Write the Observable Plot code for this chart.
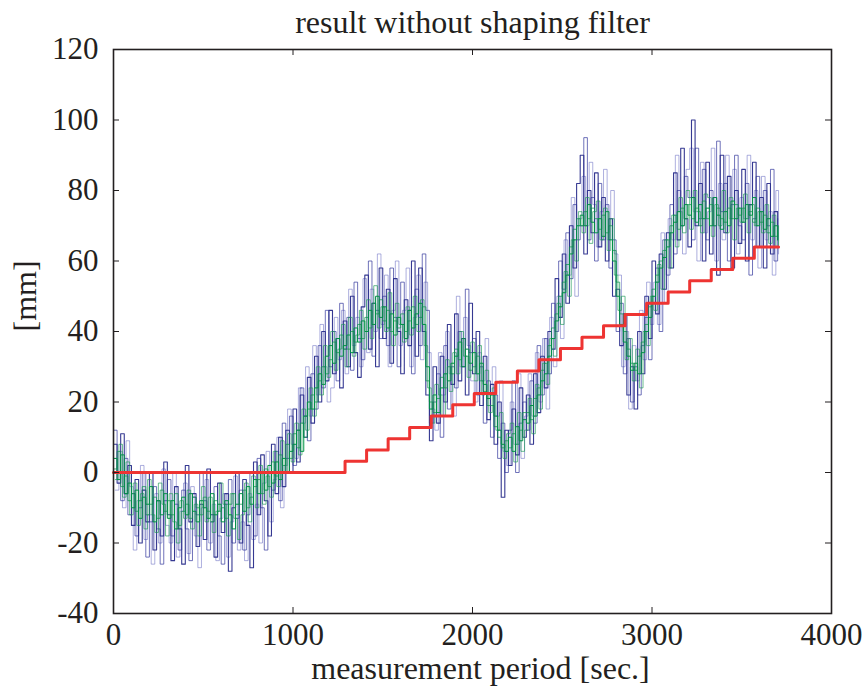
<!DOCTYPE html>
<html>
<head>
<meta charset="utf-8">
<script src="https://cdn.jsdelivr.net/npm/d3@7"></script>
<script src="https://cdn.jsdelivr.net/npm/@observablehq/plot@0.6"></script>
<style>
  html, body { margin: 0; padding: 0; background: #fff; }
  #chart { width: 863px; height: 689px; }
</style>
</head>
<body>
<div id="chart"></div>
<script>
// ---- data ----
const title = "result without shaping filter";
const xLabel = "measurement period [sec.]";
const yLabel = "[mm]";
const xTicks = [0, 1000, 2000, 3000, 4000];
const yTicks = [-40, -20, 0, 20, 40, 60, 80, 100, 120];
const sampleStep = 20;   // seconds between samples of the measured traces
const sampleOffset = 10; // the third pair of traces is sampled half a step later

const blueA = [
  8, -3, 11, -6, 2,   -15, -2, -20, -5, -14,   0, -22, -8, -18, 3,   -12, -25, -4, -16, -26,
  2, -14, -6, -21, -9,   -19, 1, -12, -24, -3,   -17, -6, -28, -10, 0,   -20, -2, -15, -27, 3,
  -12, 5, -8, -18, 8,   -6, 10, -4, 12, 0,   18, 3, 22, 10, 27,   14, 33, 20, 40, 26,
  46, 28, 38, 24, 43,   30, 50, 34, 27, 47,   56, 35, 48, 30, 58,   38, 52, 31, 55, 40,
  28, 49, 36, 60, 33,   58, 40, 22, 9, 30,   14, 33, 20, 42, 25,   45, 26, 38, 22, 48,
  28, 40, 19, 33, 15,   25, 8, 20, -7, 12,   2, 18, 5, 24, 10,   22, 8, 28, 17, 33,
  24, 40, 35, 55, 44,   62, 48, 70, 58, 82,   90, 62, 80, 68, 85,   64, 78, 60, 72, 50,
  52, 36, 45, 22, 30,   18, 40, 28, 50, 38,   60, 45, 62, 52, 68,   58, 85, 66, 92, 72,
  64, 100, 70, 82, 60,   88, 62, 78, 56, 90,   68, 84, 58, 80, 65,   86, 60, 76, 88, 64,
  78, 58, 82, 62, 74,   66
];
const blueB = [
  12, 0, -8, 4, -12,   -6, -18, -10, 0, -24,   -14, -4, -16, -26, -8,   -2, -18, -9, -22, -5,
  -16, -25, -7, -12, 0,   -8, -22, -14, -4, -18,   -26, -9, -2, -20, -13,   -5, -22, -12, 0, -18,
  4, -10, -22, 0, -5,   6, -8, 14, 4, 16,   2, 12, 24, 16, 9,   28, 18, 36, 24, 46,
  30, 40, 26, 48, 35,   44, 29, 54, 38, 32,   40, 60, 33, 46, 38,   50, 36, 58, 44, 30,
  54, 38, 46, 28, 52,   36, 62, 46, 14, 20,   28, 10, 36, 18, 30,   24, 40, 30, 52, 34,
  38, 22, 30, 14, 26,   10, 22, 4, 14, 0,   12, 26, 0, 14, 20,   12, 26, 14, 36, 22,
  38, 28, 48, 40, 60,   52, 68, 55, 76, 66,   70, 95, 66, 78, 60,   82, 66, 76, 58, 66,
  40, 48, 28, 38, 20,   30, 22, 36, 44, 32,   48, 58, 40, 66, 56,   76, 62, 80, 70, 84,
  78, 66, 92, 72, 86,   66, 80, 70, 94, 74,   82, 60, 76, 90, 70,   66, 82, 56, 72, 84,
  64, 80, 70, 86, 60,   72
];
const blueC = [
  -5, 6, -10, 9, -4,   -22, -8, 2, -19, -12,   -26, -6, -20, 1, -15,   -20, 0, -24, -11, -3,
  -23, -4, -18, -27, -10,   -2, -20, -9, -25, -13,   -6, -24, -14, -1, -22,   -14, -25, -6, -19, -9,
  -20, -3, 6, -14, -2,   10, -10, 2, 18, 8,   4, 24, 14, 30, 16,   36, 22, 42, 30, 20,
  24, 44, 32, 46, 28,   52, 36, 44, 30, 55,   34, 52, 40, 62, 42,   56, 30, 46, 60, 36,
  46, 58, 30, 44, 56,   32, 54, 34, 18, 12,   34, 22, 40, 28, 16,   50, 30, 44, 36, 26,
  20, 34, 26, 38, 22,   30, 16, 26, 6, 2,   20, 8, 28, 4, 16,   28, 16, 34, 20, 38,
  18, 44, 30, 50, 38,   66, 56, 78, 50, 72,   84, 70, 88, 76, 64,   74, 86, 66, 80, 62,
  56, 30, 40, 18, 36,   26, 46, 32, 54, 42,   54, 42, 68, 48, 72,   66, 90, 74, 62, 86,
  92, 74, 60, 88, 68,   74, 92, 60, 82, 66,   90, 72, 86, 62, 78,   72, 90, 66, 80, 58,
  84, 66, 74, 56, 80,   62
];
const greenA = [
  4, -2, 5, -6, -3,   -10, -5, -13, -7, -9,   -4, -14, -8, -12, -6,   -13, -8, -16, -10, -7,
  -12, -6, -11, -14, -8,   -10, -13, -6, -12, -9,   -14, -8, -12, -16, -9,   -6, -11, -4, -9, -2,
  -6, 0, -5, 2, -3,   3, -2, 4, 0, 6,   8, 12, 6, 16, 20,   18, 24, 28, 25, 33,
  36, 31, 38, 33, 36,   39, 34, 41, 37, 43,   40, 46, 42, 50, 44,   47, 41, 45, 39, 44,
  42, 38, 46, 41, 45,   48, 42, 30, 18, 22,   17, 24, 28, 26, 31,   33, 37, 30, 35, 31,
  34, 28, 31, 25, 21,   22, 16, 12, 8, 6,   10, 6, 13, 9, 15,   14, 19, 16, 22, 26,
  28, 33, 38, 43, 47,   51, 56, 62, 66, 70,   73, 70, 76, 71, 68,   72, 67, 74, 66, 60,
  50, 42, 37, 33, 29,   31, 28, 34, 40, 44,   50, 54, 58, 61, 64,   68, 71, 74, 70, 76,
  73, 78, 71, 76, 72,   75, 70, 78, 73, 69,   74, 70, 77, 72, 75,   71, 76, 73, 78, 70,
  74, 69, 72, 67, 70,   66
];
const greenB = [
  1, 6, -4, -1, -8,   -6, -11, -8, -4, -12,   -9, -7, -13, -5, -11,   -8, -12, -6, -15, -11,
  -9, -13, -7, -10, -12,   -7, -11, -14, -8, -11,   -10, -13, -9, -6, -12,   -9, -5, -10, -7, -4,
  -2, -6, 1, -4, 3,   -1, 5, 2, 8, 4,   11, 7, 14, 10, 18,   22, 20, 26, 30, 28,
  32, 37, 34, 39, 35,   35, 40, 37, 42, 38,   44, 41, 48, 45, 49,   43, 46, 40, 43, 41,
  45, 40, 43, 47, 42,   44, 47, 26, 20, 17,   21, 27, 24, 30, 28,   35, 32, 38, 33, 29,
  30, 33, 26, 23, 19,   19, 13, 10, 7, 9,   7, 11, 8, 12, 17,   17, 15, 21, 24, 29,
  31, 36, 41, 45, 50,   54, 59, 64, 69, 72,   70, 74, 72, 75, 72,   69, 73, 68, 70, 63,
  54, 45, 40, 35, 31,   29, 33, 37, 42, 47,   52, 56, 60, 63, 66,   70, 73, 69, 75, 72,
  76, 72, 75, 70, 77,   72, 76, 70, 75, 72,   71, 75, 72, 76, 73,   75, 72, 74, 71, 75,
  71, 73, 68, 71, 67,   68
];
const greenC = [
  -2, 8, -7, 3, -12,   -3, -15, -6, -16, -2,   -12, -17, -3, -9, -18,   -6, -14, -20, -8, -13,
  -5, -16, -9, -18, -4,   -14, -7, -17, -11, -3,   -9, -18, -6, -13, -19,   -12, -3, -14, -1, -10,
  2, -9, -1, -7, 6,   -4, 9, 0, 11, 3,   14, 5, 18, 12, 24,   16, 30, 22, 36, 27,
  40, 29, 35, 42, 30,   44, 33, 39, 46, 35,   49, 38, 53, 41, 47,   40, 51, 36, 48, 42,
  37, 47, 39, 50, 40,   49, 36, 24, 14, 25,   22, 16, 32, 23, 34,   28, 40, 33, 27, 37,
  26, 36, 22, 29, 17,   24, 12, 17, 4, 11,   14, 3, 17, 6, 12,   21, 11, 25, 18, 31,
  25, 38, 33, 48, 42,   57, 50, 66, 60, 74,   68, 78, 65, 74, 77,   66, 75, 63, 72, 56,
  46, 50, 32, 38, 26,   35, 24, 40, 36, 50,   46, 59, 52, 66, 58,   73, 64, 78, 68, 80,
  69, 80, 74, 68, 79,   78, 67, 76, 70, 80,   68, 78, 66, 75, 71,   79, 68, 76, 70, 74,
  68, 76, 65, 73, 64,   70
];
// reference (red) staircase
const redT = [0, 1290, 1410, 1530, 1650, 1770, 1890, 2010, 2130, 2250, 2370, 2490, 2610, 2730, 2850, 2970, 3090, 3210, 3330, 3450, 3570, 3705];
const redV = [0, 3.2, 6.4, 9.6, 12.8, 16, 19.2, 22.4, 25.6, 28.8, 32, 35.2, 38.4, 41.6, 44.8, 48, 51.2, 54.4, 57.6, 60.8, 64, 64];

// ---- build tables ----
const toRows = (vals, off = 0) => vals.map((v, i) => ({t: Math.min(i * sampleStep + off, 3705), v}));
const rowsBlueA = toRows(blueA);
const rowsBlueB = toRows(blueB);
const rowsBlueC = toRows(blueC, sampleOffset);
const rowsGreenA = toRows(greenA);
const rowsGreenB = toRows(greenB);
const rowsGreenC = toRows(greenC, sampleOffset);
const rowsRed = redT.map((t, i) => ({t, v: redV[i]}));

const W = 863, H = 689;
const mL = 113, mR = 32, mT = 49, mB = 76;
const fw = W - mL - mR, fh = H - mT - mB;
const tick = 6;
const ink = "#231f20";
const plain = d => String(d);

const plot = Plot.plot({
  width: W,
  height: H,
  marginLeft: mL,
  marginRight: mR,
  marginTop: mT,
  marginBottom: mB,
  style: {fontFamily: "'Liberation Serif', 'DejaVu Serif', serif", fontSize: "30px", background: "#fff", color: ink, overflow: "visible"},
  x: {domain: [0, 4000]},
  y: {domain: [-40, 120]},
  marks: [
    Plot.line(rowsBlueC, {x: "t", y: "v", curve: "step-after", stroke: "#6a6ec2", strokeWidth: 1, strokeOpacity: 0.55}),
    Plot.line(rowsBlueB, {x: "t", y: "v", curve: "step-after", stroke: "#33389c", strokeWidth: 1, strokeOpacity: 0.7}),
    Plot.line(rowsBlueA, {x: "t", y: "v", curve: "step-after", stroke: "#2b2e8c", strokeWidth: 1.1, strokeOpacity: 0.95}),
    Plot.line(rowsGreenC, {x: "t", y: "v", curve: "step-after", stroke: "#15984f", strokeWidth: 0.9, strokeOpacity: 0.7}),
    Plot.line(rowsGreenB, {x: "t", y: "v", curve: "step-after", stroke: "#0b944a", strokeWidth: 0.9, strokeOpacity: 0.8}),
    Plot.line(rowsGreenA, {x: "t", y: "v", curve: "step-after", stroke: "#009245", strokeWidth: 1}),
    Plot.line(rowsRed, {x: "t", y: "v", curve: "step-after", stroke: "#ee3432", strokeWidth: 3}),
    // inward ticks on all four sides
    Plot.tickY(yTicks, {y: d => d, insetRight: fw - tick, stroke: ink, strokeWidth: 1}),
    Plot.tickY(yTicks, {y: d => d, insetLeft: fw - tick, stroke: ink, strokeWidth: 1}),
    Plot.tickX(xTicks, {x: d => d, insetTop: fh - tick, stroke: ink, strokeWidth: 1}),
    Plot.tickX(xTicks, {x: d => d, insetBottom: fh - tick, stroke: ink, strokeWidth: 1}),
    Plot.frame({stroke: ink, strokeWidth: 1.6}),
    Plot.axisY(yTicks, {tickSize: 0, tickPadding: 15, label: null, fontSize: 31, fill: ink, tickFormat: plain}),
    Plot.axisX(xTicks, {tickSize: 0, tickPadding: 9, label: null, fontSize: 31, fill: ink, tickFormat: plain}),
    Plot.text([title], {text: d => d, frameAnchor: "top", dy: -27, fontSize: 32, fill: ink, lineAnchor: "middle"}),
    Plot.text([xLabel], {text: d => d, frameAnchor: "bottom", dy: 55, dx: 8, fontSize: 32, fill: ink, lineAnchor: "middle"}),
    Plot.text([yLabel], {text: d => d, frameAnchor: "left", dx: -88, rotate: -90, fontSize: 32, fill: ink, lineAnchor: "middle"})
  ]
});
document.getElementById("chart").appendChild(plot);
</script>
</body>
</html>
